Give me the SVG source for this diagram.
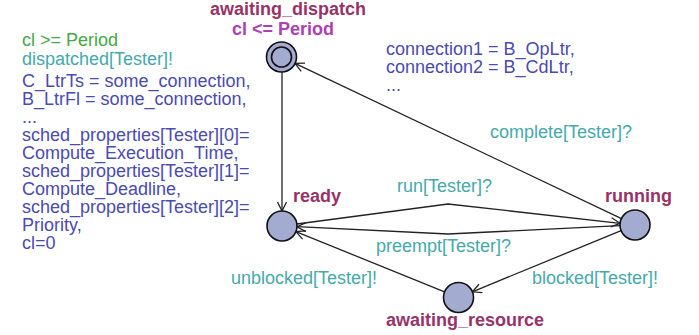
<svg xmlns="http://www.w3.org/2000/svg" width="699" height="335" viewBox="0 0 699 335">
  <style>
    text { font-family: "Liberation Sans", Arial, sans-serif; font-size: 18px; }
    .name { font-weight: bold; fill: #993366; }
    .inv { font-weight: bold; fill: #b040b0; }
    .guard { fill: #44aa44; }
    .sync { fill: #44aaaa; }
    .assign { fill: #4a4ab4; }
    .loc { fill: #a4abd0; stroke: #111; stroke-width: 1.6; }
    .edge { fill: none; stroke: #222; stroke-width: 1.3; marker-end: url(#arrow); }
  </style>
  <defs>
    <marker id="arrow" viewBox="-10 -6 12 12" refX="0" refY="0" markerWidth="12" markerHeight="12" markerUnits="userSpaceOnUse" orient="auto">
      <path d="M -9 -4.5 L 0 0 L -9 4.5" fill="none" stroke="#222" stroke-width="1.3"/>
    </marker>
  </defs>

  <g id="connectors">
    <line class="edge" x1="282" y1="72" x2="282" y2="211"/>
    <line class="edge" x1="621.5" y1="218.6" x2="295" y2="63.4"/>
    <polyline class="edge" points="296.9,224 448,204 620.1,223.3"/>
    <polyline class="edge" points="620,225.7 448,234 297,226.7"/>
    <line class="edge" x1="621.1" y1="230.6" x2="472.4" y2="291.8"/>
    <line class="edge" x1="444.6" y1="291.9" x2="295.9" y2="231.6"/>
  </g>

  <g id="awaiting_dispatch">
    <circle class="loc" cx="281.5" cy="57" r="15"/>
    <circle cx="281.5" cy="57" r="10" fill="none" stroke="#111" stroke-width="1.6"/>
    <text class="name" x="210" y="15">awaiting_dispatch</text>
    <text class="inv" x="232" y="35">cl &lt;= Period</text>
  </g>

  <g id="ready">
    <circle class="loc" cx="282" cy="226" r="15"/>
    <text class="name" x="293" y="202">ready</text>
  </g>

  <g id="running">
    <circle class="loc" cx="635" cy="225" r="15"/>
    <text class="name" x="605" y="202">running</text>
  </g>

  <g id="awaiting_resource">
    <circle class="loc" cx="458.5" cy="297.5" r="15"/>
    <text class="name" x="386" y="326">awaiting_resource</text>
  </g>

  <g id="labels">
    <text class="guard" x="22" y="46">cl &gt;= Period</text>
    <text class="sync" x="22" y="64.5">dispatched[Tester]!</text>
    <text class="assign" x="22" y="87">C_LtrTs = some_connection,</text>
    <text class="assign" x="22" y="105">B_LtrFl = some_connection,</text>
    <text class="assign" x="22" y="123">...</text>
    <text class="assign" x="22" y="141">sched_properties[Tester][0]=</text>
    <text class="assign" x="22" y="159">Compute_Execution_Time,</text>
    <text class="assign" x="22" y="177">sched_properties[Tester][1]=</text>
    <text class="assign" x="22" y="195">Compute_Deadline,</text>
    <text class="assign" x="22" y="213">sched_properties[Tester][2]=</text>
    <text class="assign" x="22" y="231">Priority,</text>
    <text class="assign" x="22" y="249">cl=0</text>

    <text class="assign" x="386" y="55">connection1 = B_OpLtr,</text>
    <text class="assign" x="386" y="73">connection2 = B_CdLtr,</text>
    <text class="assign" x="386" y="91">...</text>
    <text class="sync" x="490" y="138">complete[Tester]?</text>
    <text class="sync" x="397" y="192">run[Tester]?</text>
    <text class="sync" x="376" y="252">preempt[Tester]?</text>
    <text class="sync" x="231" y="284">unblocked[Tester]!</text>
    <text class="sync" x="532" y="284">blocked[Tester]!</text>
  </g>
</svg>
